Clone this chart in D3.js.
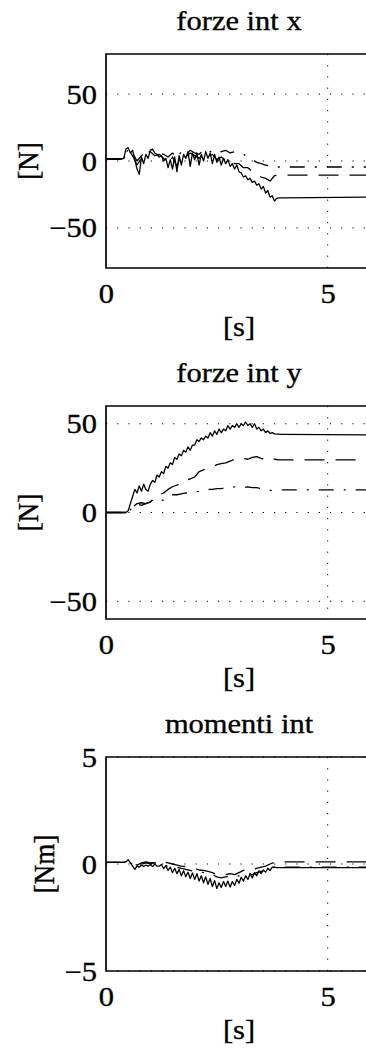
<!DOCTYPE html>
<html><head><meta charset="utf-8">
<script src="https://cdn.jsdelivr.net/npm/d3@7"></script>
<style>html,body{margin:0;padding:0;background:#fff;overflow:hidden}
text{font-family:'Liberation Serif','Times New Roman',Times,serif;}</style>
</head><body><svg id="c" width="366" height="1049"></svg>
<script>
// ---------------- data ----------------
const xDomain = [0, 6];
const xTickValues = [0, 5];
const xLabel = "[s]";
const titles = ["forze int x", "forze int y", "momenti int"];
const yLabels = ["[N]", "[N]", "[Nm]"];
const yDomains = [[-80, 80], [-60, 60], [-5, 5]];
const yTickValues = [[-50, 0, 50], [-50, 0, 50], [-5, 0, 5]];

// sample instants: fine = every 0.05 s (0..4 s), coarse = every 0.1 s (0..4 s), then last sample at 6 s
const fineStep = 0.05, fineCount = 81;
const coarseStep = 0.1, coarseCount = 41;
const endTime = 6;

// forze int x
const fxSolid = [
  1.5,1.5,1.5,1.5,1.5,1.5,1.5,1.5,2,9,
  10,6,8,1,-6,-10,3,-2,5,2,
  8,9,6,5,3,4,0,2,-5,1,
  -6,3,-8,4,-3,5,2,7,-4,6,
  1,6,-3,5,0,7,2,6,-2,5,
  -1,3,-3,2,-2,1,-4,-2,-6,-3,
  -8,-9,-12,-11,-14,-13,-16,-15,-18,-17,
  -21,-19,-24,-22,-27,-26,-30,-28,-27.5,-27.5,
  -27.5, -27];
const fxDashed = [
  1.5,1.5,1.5,1.5,2, 8,4,-3,2,6,
  7,4,5,2,-2, 3,-4,5,3,6,
  4,2,6,3,5, 1,3,0,1,-2,
  -2,-5,-5,-8,-10, -12,-13,-15,-11,-10.5,
  -10.5, -10.5];
const fxDashDot = [
  1.5,1.5,1.5,1.5,2, 9,6,0,4,7,
  9,7,6,5,3, 6,2,7,5,8,
  6,5,8,6,8, 6,7,8,6,7,
  6,5,3,1,-1, -2,-3,-4,-4.5,-4.5,
  -4.5, -4.5];

// forze int y
const fySolid = [
  0,0,0,0,0,0,0,0,0,0,
  1,5,9,13,11,15,12,16,13,12,
  16,18,17,21,20,23,22,26,25,28,
  27,31,30,33,32,35,34,37,35,38,
  38,41,40,42,41,43,42,45,43,46,
  44,47,45,47,46,49,47,49,48,50,
  48,50,49,51,49,50,48,50,47,48,
  46,47,45,46,44.5,45,44.3,44.2,44.1,44,
  44, 43.7];
const fyDashed = [
  0,0,0,0,0, 0,3,5,5.5,5,
  6,8,10,11,13, 14.5,15.5,16,18,19,
  20,23,24,25,25.5, 27,27.5,28,29,30,
  29.5,30.5,30,31,31.5, 30.5,30,31,30,29.6,
  29.6, 29.6];
const fyDashDot = [
  0,0,0,0,0, 0,3,5,4,5,
  6,8,7,7,9, 10,10,10.5,11,11,
  11.5,12,12.5,13,13, 13.5,13.5,14,14,14.5,
  14,14,14.5,14,14, 13.5,13,12.5,12.5,12.7,
  12.7, 12.7];

// momenti int
const mzSolid = [
  0.08,0.08,0.08,0.08,0.08,0.08,0.08,0.08,0.08,0.1,
  0.2,0.05,-0.1,-0.25,-0.1,-0.15,-0.05,-0.12,-0.05,-0.1,
  -0.02,-0.12,0,-0.1,-0.1,-0.02,-0.22,-0.08,-0.3,-0.15,
  -0.4,-0.2,-0.45,-0.25,-0.55,-0.32,-0.6,-0.38,-0.68,-0.42,
  -0.72,-0.45,-0.8,-0.55,-0.88,-0.6,-0.95,-0.68,-1.05,-0.78,
  -1.15,-0.88,-1.1,-0.82,-1.05,-0.8,-1.08,-0.82,-1.0,-0.72,
  -0.9,-0.62,-0.8,-0.55,-0.72,-0.45,-0.65,-0.4,-0.55,-0.32,
  -0.45,-0.28,-0.38,-0.2,-0.3,-0.15,-0.15,-0.17,-0.17,-0.17,
  -0.17, -0.17];
const mzDashed = [
  0.08,0.08,0.08,0.08,0.08, 0.15,0,-0.05,0.05,0.1,
  0.05,0.08,0.12,0.1,0.05, 0,-0.05,-0.1,-0.12,-0.15,
  -0.2,-0.28,-0.3,-0.35,-0.4, -0.5,-0.55,-0.5,-0.45,-0.5,
  -0.4,-0.3,-0.25,-0.3,-0.2, -0.15,-0.1,0,0.08,0.1,
  0.1, 0.1];
const mzDashDot = [
  0.08,0.08,0.08,0.08,0.08, 0.12,-0.02,-0.1,0,0.05,
  0.02,0.05,0,-0.05,-0.1, -0.12,-0.15,-0.2,-0.25,-0.3,
  -0.35,-0.35,-0.4,-0.45,-0.5, -0.6,-0.65,-0.6,-0.55,-0.6,
  -0.55,-0.5,-0.45,-0.5,-0.4, -0.35,-0.3,-0.2,-0.15,-0.15,
  -0.15, -0.15];

const panelSeries = [
  [fxSolid, fxDashed, fxDashDot],
  [fySolid, fyDashed, fyDashDot],
  [mzSolid, mzDashed, mzDashDot]
];

// ---------------- layout ----------------
const svg = d3.select("#c");
const FONT = "'Liberation Serif','Times New Roman',Times,serif";
const FS = 27, SX = 1.13;
const panels = [
  { top: 54,  bottom: 268, yLabelX: 37.5 },
  { top: 406, bottom: 619, yLabelX: 37.5 },
  { top: 757, bottom: 971, yLabelX: 53.5 }
];
const x = d3.scaleLinear().domain(xDomain).range([106, 372]);

const fineTimes = d3.range(fineCount).map(i => i * fineStep).concat([endTime]);
const coarseTimes = d3.range(coarseCount).map(i => i * coarseStep).concat([endTime]);

const styles = [
  { times: fineTimes, dash: null, w: 1.3 },
  { times: coarseTimes, dash: "20,11", w: 1.3 },
  { times: coarseTimes, dash: "15,10,2,10", w: 1.3 }
];

const fmt = d => d < 0 ? "\u2212" + Math.abs(d) : String(d);

function styleText(sel) {
  return sel.attr("font-family", FONT).attr("font-size", FS).attr("fill", "#000")
    .attr("stroke", "#000").attr("stroke-width", 0.35);
}

panels.forEach((p, k) => {
  const y = d3.scaleLinear().domain(yDomains[k]).range([p.bottom, p.top]);
  const g = svg.append("g");

  // grid
  const grid = g.append("g").attr("stroke", "#000").attr("stroke-width", 1).attr("stroke-dasharray", "1.2,10");
  yTickValues[k].forEach(v => {
    grid.append("line").attr("x1", x(xDomain[0])).attr("x2", x(xDomain[1])).attr("y1", y(v)).attr("y2", y(v));
  });
  xTickValues.filter(v => v !== xDomain[0]).forEach(v => {
    grid.append("line").attr("x1", x(v)).attr("x2", x(v)).attr("y1", y(yDomains[k][1])).attr("y2", y(yDomains[k][0]));
  });

  // series
  const line = d3.line().x(d => x(d[0])).y(d => y(d[1]));
  panelSeries[k].forEach((vals, j) => {
    const st = styles[j];
    const pts = vals.map((v, i) => [st.times[i], v]);
    g.append("path").datum(pts).attr("d", line)
      .attr("fill", "none").attr("stroke", "#000").attr("stroke-width", st.w)
      .attr("stroke-linejoin", "round")
      .attr("stroke-dasharray", st.dash);
  });

  // box
  const box = g.append("g").attr("stroke", "#000").attr("stroke-width", 1.7).attr("fill", "none");
  box.append("path").attr("d",
    `M${x(xDomain[1])},${y(yDomains[k][1])}H${x(xDomain[0])}V${y(yDomains[k][0])}H${x(xDomain[1])}`);

  // axes
  const ya = g.append("g").attr("transform", `translate(${x(xDomain[0])},0)`)
    .call(d3.axisLeft(y).tickValues(yTickValues[k]).tickSize(0).tickPadding(0).tickFormat(fmt));
  ya.select(".domain").remove();
  ya.attr("font-family", null).attr("font-size", null);
  styleText(ya.selectAll("text").attr("x", null).attr("dy", null)
    .attr("transform", `translate(-9,9) scale(${SX},1)`)
    .attr("text-anchor", "end"));

  const xa = g.append("g").attr("transform", `translate(0,${p.bottom})`)
    .call(d3.axisBottom(x).tickValues(xTickValues).tickSize(0).tickPadding(0).tickFormat(fmt));
  xa.select(".domain").remove();
  xa.attr("font-family", null).attr("font-size", null);
  styleText(xa.selectAll("text").attr("y", null).attr("dy", null)
    .attr("transform", `translate(0,35) scale(${SX},1)`)
    .attr("text-anchor", "middle"));

  const cx = (x.range()[0] + x.range()[1]) / 2;
  // title
  styleText(g.append("text")).attr("text-anchor", "middle")
    .attr("transform", `translate(${cx},${p.top - 24}) scale(${SX},1)`).text(titles[k]);
  // x label
  styleText(g.append("text")).attr("text-anchor", "middle")
    .attr("transform", `translate(${cx},${p.bottom + 68}) scale(${SX},1)`).text(xLabel);
  // y label
  styleText(g.append("text")).attr("text-anchor", "middle")
    .attr("transform", `translate(${p.yLabelX},${(p.top + p.bottom) / 2}) scale(${SX},1) rotate(-90)`).text(yLabels[k]);
});
</script></body></html>
